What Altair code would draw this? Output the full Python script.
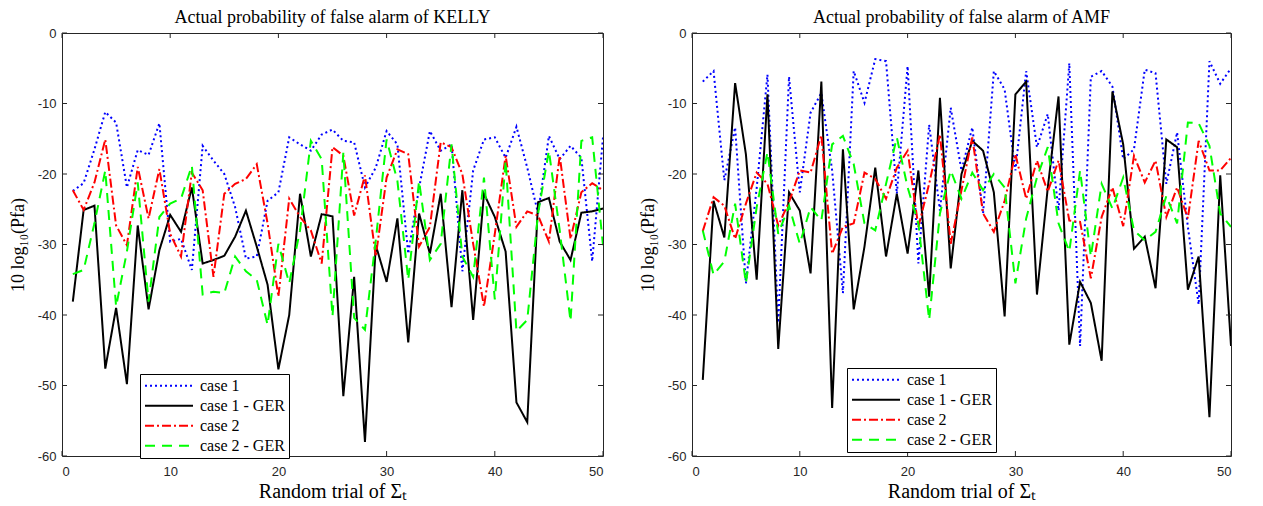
import altair as alt
import pandas as pd

trials = list(range(1, 51))
series_names = ["case 1", "case 1 - GER", "case 2", "case 2 - GER"]
x_ticks = [0, 10, 20, 30, 40, 50]
y_ticks = [0, -10, -20, -30, -40, -50, -60]

kelly_case1 = [-22.4, -21.3, -16.5, -11.2, -12.7, -21.9, -16.6, -17.3, -12.8, -29.6,
               -29.2, -33.6, -16.0, -18.1, -20.0, -24.7, -32.0, -31.7, -23.8, -22.6,
               -14.8, -15.8, -16.7, -14.4, -13.7, -15.3, -15.5, -21.9, -19.1, -13.9,
               -15.8, -31.3, -22.0, -13.9, -16.7, -15.8, -33.8, -19.5, -15.1, -14.8,
               -17.7, -13.3, -19.1, -25.6, -14.6, -17.9, -16.0, -17.7, -32.4, -14.8]
kelly_case1_ger = [-38.1, -25.1, -24.5, -47.6, -39.0, -49.8, -27.3, -39.2, -30.8, -25.8,
                   -28.2, -21.9, -32.7, -32.2, -31.6, -28.9, -25.2, -30.3, -35.7, -47.7,
                   -40.0, -22.8, -31.7, -25.7, -26.0, -51.5, -34.6, -58.0, -30.1, -35.3,
                   -26.3, -43.9, -25.6, -31.3, -22.8, -38.9, -22.3, -40.7, -22.8, -26.1,
                   -31.0, -52.4, -55.2, -24.0, -23.4, -29.6, -32.2, -25.5, -25.3, -24.9]
kelly_case2 = [-22.3, -25.1, -21.2, -15.1, -27.3, -30.1, -19.0, -26.3, -19.3, -28.5,
               -31.7, -19.8, -22.3, -34.6, -22.8, -21.4, -20.7, -18.6, -27.0, -37.4,
               -23.5, -26.1, -28.0, -32.7, -16.2, -17.4, -25.9, -20.2, -31.7, -20.5,
               -16.5, -17.2, -30.3, -27.5, -15.5, -16.2, -20.0, -29.9, -38.8, -28.5,
               -17.4, -27.5, -25.3, -25.9, -29.6, -17.4, -29.2, -22.6, -21.3, -22.3]
kelly_case2_ger = [-34.2, -33.6, -27.0, -19.5, -38.8, -31.0, -21.2, -38.1, -26.1, -24.2,
                   -23.5, -18.8, -37.1, -36.7, -36.9, -31.7, -33.8, -35.0, -41.4, -29.9,
                   -35.5, -28.0, -15.3, -17.9, -40.2, -17.0, -40.4, -42.1, -29.4, -15.1,
                   -21.0, -35.0, -21.0, -32.2, -29.9, -15.8, -31.7, -34.6, -20.5, -37.8,
                   -18.1, -42.3, -40.7, -25.6, -16.7, -28.0, -40.9, -15.3, -14.8, -30.1]

amf_case1 = [-6.9, -5.4, -20.9, -13.4, -35.5, -22.0, -5.9, -41.1, -6.2, -22.6,
             -11.3, -8.5, -19.5, -36.9, -5.4, -9.9, -3.7, -4.0, -22.8, -4.7,
             -32.7, -13.0, -25.2, -10.6, -19.5, -13.4, -25.6, -5.4, -8.0, -19.5,
             -5.4, -16.2, -11.5, -25.2, -4.3, -44.4, -6.2, -5.4, -7.6, -17.9,
             -16.5, -5.2, -5.7, -21.4, -14.1, -27.5, -38.5, -4.0, -7.2, -5.0]
amf_case1_ger = [-49.2, -23.8, -29.0, -7.1, -17.2, -35.0, -8.7, -44.8, -22.6, -25.2,
                 -34.1, -6.9, -53.2, -16.5, -39.2, -30.3, -19.1, -31.7, -22.8, -31.3,
                 -19.5, -37.4, -9.2, -33.4, -20.0, -15.3, -16.7, -22.6, -40.2, -8.7,
                 -6.9, -37.1, -22.0, -9.0, -44.2, -35.3, -38.3, -46.5, -8.3, -15.8,
                 -30.6, -28.9, -36.2, -15.1, -16.2, -36.4, -31.7, -54.5, -20.2, -44.4]
amf_case2 = [-28.1, -23.3, -24.5, -29.2, -24.2, -19.8, -21.4, -27.3, -24.0, -19.5,
             -19.8, -14.5, -31.3, -27.5, -27.0, -19.8, -20.7, -23.5, -19.1, -16.7,
             -27.5, -21.4, -14.4, -29.9, -22.3, -14.8, -25.6, -28.2, -23.8, -17.2,
             -23.5, -18.1, -22.5, -18.1, -26.6, -26.8, -34.8, -26.1, -21.9, -27.4,
             -17.4, -21.2, -18.1, -26.1, -21.9, -26.3, -15.3, -19.5, -19.5, -17.7]
amf_case2_ger = [-28.0, -34.3, -32.4, -24.2, -35.5, -24.7, -16.9, -28.5, -24.5, -29.9,
                 -24.7, -26.6, -15.8, -14.6, -18.6, -27.0, -28.0, -21.4, -14.8, -21.9,
                 -27.0, -40.7, -25.6, -19.5, -23.5, -19.8, -22.3, -20.0, -21.9, -35.5,
                 -26.3, -20.5, -16.2, -27.0, -31.0, -19.5, -31.7, -21.4, -24.9, -20.5,
                 -28.0, -29.4, -28.2, -23.1, -27.0, -12.7, -12.8, -16.0, -25.6, -27.5]

colors = ["#0000FF", "#000000", "#FF0000", "#00FF00"]
dashes = [[2, 3], [1, 0], [9, 3, 2, 3], [10, 7]]

H = 423
AX = "#262626"
SERIF = "Liberation Serif"


def make_df(series_lists):
    rows = []
    for name, vals in zip(series_names, series_lists):
        for t, v in zip(trials, vals):
            rows.append({"trial": t, "pfa": v, "series": name})
    return pd.DataFrame(rows)


def x_enc():
    return alt.X("trial:Q", scale=alt.Scale(domain=[0, 50], nice=False),
                 axis=alt.Axis(values=x_ticks, title="Random trial of Σₜ",
                               labelPadding=9, titleY=25, titleBaseline="top",
                               titleFont=SERIF, titleFontSize=20,
                               titleFontWeight="normal", titleColor="black",
                               labelExpr="'' + datum.value"))


def y_enc():
    return alt.Y("pfa:Q", scale=alt.Scale(domain=[-60, 0], nice=False),
                 axis=alt.Axis(values=y_ticks, title="10 log₁₀(Pfa)",
                               labelPadding=6, titlePadding=10,
                               titleFont=SERIF, titleFontSize=18,
                               titleFontWeight="normal", titleColor="black",
                               labelExpr="'' + datum.value"))


def panel(series_lists, title, lx, ly, W):
    df = make_df(series_lists)
    leg = alt.Legend(
        title=None, orient="none", legendX=lx, legendY=ly,
        fillColor="white", strokeColor="black", padding=4,
        symbolType="stroke", symbolSize=2304, symbolStrokeWidth=2,
        clipHeight=15.3, rowPadding=3, labelOffset=6,
        labelFont=SERIF, labelFontSize=16, labelColor="black",
        labelLimit=300, cornerRadius=0,
    )
    lines = alt.Chart(df).mark_line(strokeWidth=2, clip=True).encode(
        x=x_enc(), y=y_enc(),
        color=alt.Color("series:N", scale=alt.Scale(domain=series_names, range=colors), legend=leg),
        strokeDash=alt.StrokeDash("series:N", scale=alt.Scale(domain=series_names, range=dashes), legend=leg),
        order=alt.Order("trial:Q"),
    )
    xt = pd.DataFrame({"trial": x_ticks})
    yt = pd.DataFrame({"pfa": y_ticks})
    xb = alt.Chart(xt).mark_rule(color=AX, strokeWidth=1).encode(
        x=x_enc(), y=alt.value(H), y2=alt.value(H - 5))
    xtop = alt.Chart(xt).mark_rule(color=AX, strokeWidth=1).encode(
        x=x_enc(), y=alt.value(0), y2=alt.value(5))
    yl = alt.Chart(yt).mark_rule(color=AX, strokeWidth=1).encode(
        y=y_enc(), x=alt.value(0), x2=alt.value(5))
    yr = alt.Chart(yt).mark_rule(color=AX, strokeWidth=1).encode(
        y=y_enc(), x=alt.value(W - 5), x2=alt.value(W))
    return alt.layer(lines, xb, xtop, yl, yr).properties(
        width=W, height=H,
        title=alt.TitleParams(title, font=SERIF, fontSize=18,
                              fontWeight="normal", color="black", offset=0),
    )


left = panel([kelly_case1, kelly_case1_ger, kelly_case2, kelly_case2_ger],
             "Actual probability of false alarm of KELLY", 78, 341, 541)
right = panel([amf_case1, amf_case1_ger, amf_case2, amf_case2_ger],
              "Actual probability of false alarm of AMF", 155, 335, 539)

chart = alt.hconcat(left, right, spacing=34).resolve_scale(
    color="independent", strokeDash="independent"
).resolve_legend(color="independent", strokeDash="independent").properties(
    padding={"left": 0, "top": 0, "right": 5, "bottom": 0}
).configure_view(stroke=AX, strokeWidth=1).configure_axis(
    labelFont="Liberation Sans", labelFontSize=13, labelColor=AX,
    grid=False, ticks=False, tickSize=0, domain=False,
)

chart.save("out.html", embed_options={"renderer": "svg", "actions": False})
